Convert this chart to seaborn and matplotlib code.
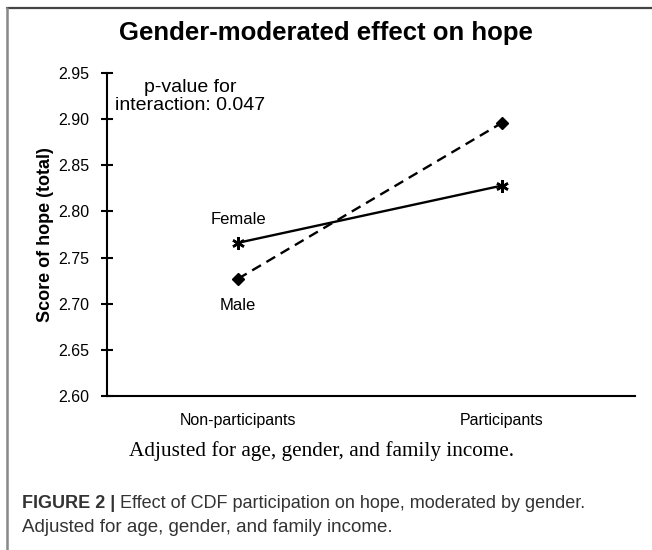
"""Gender-moderated effect of CDF participation on hope."""
import pandas as pd
import matplotlib
matplotlib.use('Agg')
import matplotlib.pyplot as plt
from matplotlib.lines import Line2D
import seaborn as sns

# values
groups = ['Non-participants', 'Participants']
female_scores = [2.766, 2.828]
male_scores = [2.727, 2.896]
y_ticks = [2.60, 2.65, 2.70, 2.75, 2.80, 2.85, 2.90, 2.95]

df = pd.DataFrame({
    'group': groups * 2,
    'gender': ['Female'] * 2 + ['Male'] * 2,
    'score': female_scores + male_scores,
})

sns.set_theme(style='white')
plt.rcParams['font.family'] = ['Liberation Sans', 'DejaVu Sans']
plt.rcParams['text.color'] = 'black'
plt.rcParams['axes.labelcolor'] = 'black'

fig = plt.figure(figsize=(6.52, 5.5), dpi=100)
ax = fig.add_axes([107 / 652, 1 - 396 / 550, 528 / 652, 323 / 550])

sns.lineplot(data=df, x='group', y='score', style='gender', color='black',
             style_order=['Female', 'Male'], markers=False,
             dashes={'Female': '', 'Male': (4.3, 2.7)},
             linewidth=1.7, sort=False, legend=False, ax=ax)

# Excel-style markers: asterisk for female, solid diamond for male
for line, mk in zip(ax.lines, [(6, 2, 0), 'D']):
    line.set_marker(mk)
    line.set_markersize(6 if mk == 'D' else 9)
    line.set_markeredgecolor('black')
    line.set_markerfacecolor('black')
    line.set_markeredgewidth(1.8 if mk != 'D' else 1)

ax.set_xlim(-0.496, 1.504)
ax.set_ylim(2.60, 2.95)
ax.set_yticks(y_ticks)
ax.set_yticklabels([f'{v:.2f}' for v in y_ticks])
ax.set_xlabel('')
ax.set_ylabel('Score of hope (total)', fontsize=13, fontweight='bold')
ax.yaxis.set_label_coords(-0.10, 0.5)

sns.despine(ax=ax)
for side in ['left', 'bottom']:
    ax.spines[side].set_color('black')
    ax.spines[side].set_linewidth(1.5)
ax.tick_params(axis='y', direction='inout', length=9, width=1.5,
               labelsize=11.5, pad=8, colors='black', left=True)
ax.tick_params(axis='x', length=0, labelsize=11.5, pad=12, colors='black')

# labels next to the series
ax.annotate('Female', xy=(0, female_scores[0]), xytext=(0, 17),
            textcoords='offset points', ha='center', va='center', fontsize=12)
ax.annotate('Male', xy=(0, male_scores[0]), xytext=(0, -19),
            textcoords='offset points', ha='center', va='center', fontsize=12)

ax.text(0.157, 0.928, 'p-value for\ninteraction: 0.047', transform=ax.transAxes,
        ha='center', va='center', multialignment='center', fontsize=14,
        linespacing=1.05)

fig.text(0.5, 1 - 33 / 550, 'Gender-moderated effect on hope', ha='center',
         va='center', fontsize=18.5, fontweight='bold')
fig.text(0.493, 1 - 451 / 550, 'Adjusted for age, gender, and family income.',
         ha='center', va='center', fontsize=15.3, family='Liberation Serif')

# figure caption below the chart
cap_color = '#333333'
t1 = fig.text(22 / 652, 1 - 504 / 550, 'FIGURE 2 |', ha='left', va='center',
              fontsize=13, fontweight='bold', color=cap_color)
fig.text(22 / 652, 1 - 527 / 550, 'Adjusted for age, gender, and family income.',
         ha='left', va='center', fontsize=13.5, color=cap_color)
plt.annotate(' Effect of CDF participation on hope, moderated by gender.',
             xy=(1, 0), xycoords=t1, ha='left', va='bottom', fontsize=13,
             color=cap_color, annotation_clip=False)

# page frame lines
fig.add_artist(Line2D([7 / 652, 1], [1 - 8 / 550, 1 - 8 / 550],
                      color='#444444', linewidth=1.6))
fig.add_artist(Line2D([7 / 652, 7 / 652], [0, 1 - 8 / 550],
                      color='#888888', linewidth=1.8))

plt.savefig('out.png', dpi=100)
plt.close()
